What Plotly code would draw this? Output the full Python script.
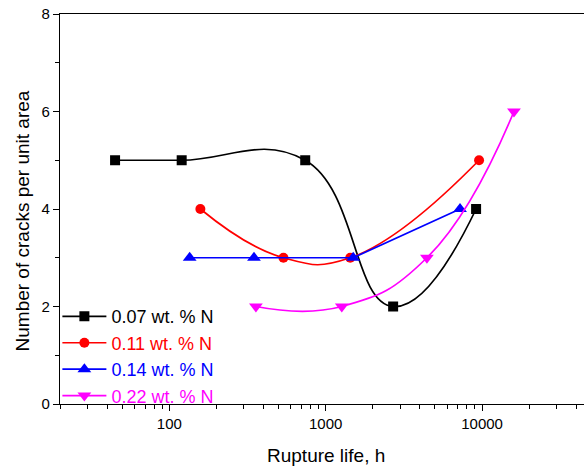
import plotly.graph_objects as go

# Data
x_007 = [45, 120, 740, 2700, 9160]
y_007 = [5, 5, 5, 2, 4]
x_011 = [158, 537, 1436, 9570]
y_011 = [4, 3, 3, 5]
x_014 = [135, 348, 1500, 7230]
y_014 = [3, 3, 3, 4]
x_022 = [358, 1268, 4440, 16000]
y_022 = [2, 2, 3, 6]

names = ["0.07 wt. % N", "0.11 wt. % N", "0.14 wt. % N", "0.22 wt. % N"]
colors = ["#000000", "#ff0000", "#0000ff", "#ff00ff"]
symbols = ["square", "circle", "triangle-up", "triangle-down"]
msizes = [10, 10, 12, 12]
shapes = ["spline", "spline", "linear", "spline"]
xs = [x_007, x_011, x_014, x_022]
ys = [y_007, y_011, y_014, y_022]

FONT = "Liberation Sans, Arial, sans-serif"

fig = go.Figure()
for xv, yv, nm, c, s, ms, sh in zip(xs, ys, names, colors, symbols, msizes, shapes):
    fig.add_trace(go.Scatter(
        x=xv, y=yv, mode="lines+markers",
        name=f"<span style='color:{c}'>{nm}</span>",
        line=dict(color=c, width=1.7, shape=sh, smoothing=1.3),
        marker=dict(color=c, symbol=s, size=ms),
    ))

minor_x = [m * 10 ** e for e in range(1, 5) for m in range(2, 10)]

fig.update_layout(
    width=584, height=466,
    margin=dict(l=60, r=0, t=14, b=62),
    paper_bgcolor="white", plot_bgcolor="white",
    font=dict(family=FONT, color="black", size=15),
    showlegend=True,
    legend=dict(x=-0.005, y=-0.026, xanchor="left", yanchor="bottom",
                bgcolor="rgba(0,0,0,0)", font=dict(size=18, family=FONT),
                itemwidth=44, tracegroupgap=0),
    xaxis=dict(type="log", range=[1.30103, 4.652], showgrid=False, zeroline=False,
               showline=True, linecolor="black", linewidth=1.4, mirror=True,
               ticks="outside", ticklen=6, tickwidth=1.2, tickcolor="black",
               tickvals=[100, 1000, 10000], ticktext=["100", "1000", "10000"],
               tickfont=dict(size=15, family=FONT),
               minor=dict(tickvals=minor_x, ticks="outside", ticklen=4,
                          tickwidth=1.2, tickcolor="black", showgrid=False)),
    yaxis=dict(range=[0, 8], showgrid=False, zeroline=False,
               showline=True, linecolor="black", linewidth=1.4,
               ticks="outside", ticklen=6, tickwidth=1.2, tickcolor="black",
               tickvals=[0, 2, 4, 6, 8], tickfont=dict(size=15, family=FONT),
               minor=dict(dtick=1, ticks="outside", ticklen=4, tickwidth=1.2,
                          tickcolor="black", showgrid=False)),
    annotations=[
        dict(text="Rupture life, h", xref="paper", yref="paper",
             x=0.508, y=-0.131, xanchor="center", yanchor="middle",
             showarrow=False, font=dict(size=19, family=FONT)),
        dict(text="Number of cracks per unit area", xref="paper", yref="paper",
             x=-0.0725, y=0.468, xanchor="center", yanchor="middle",
             textangle=-90, showarrow=False, font=dict(size=19, family=FONT)),
    ],
)

fig.write_html("out.html")
